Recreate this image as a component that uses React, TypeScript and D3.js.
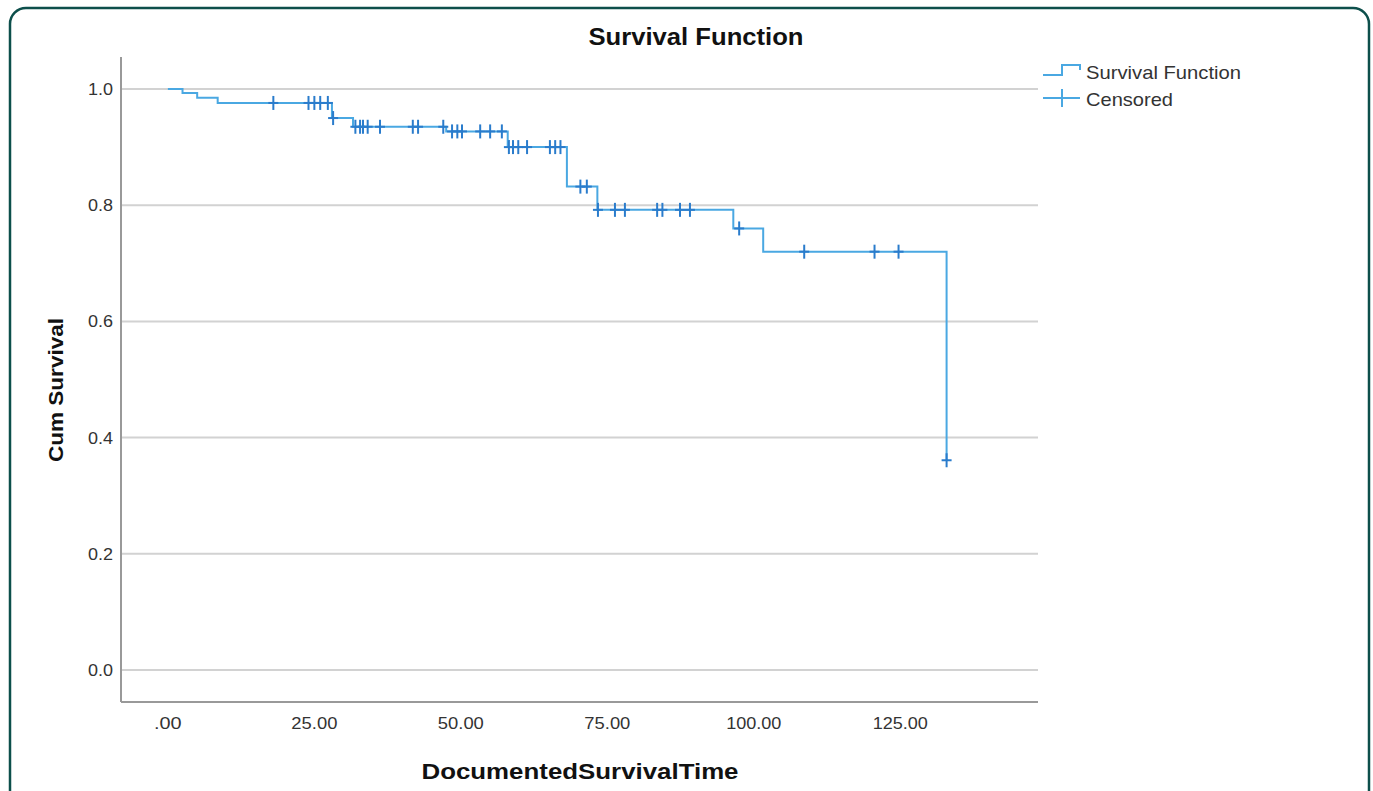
import React from 'react';
import * as d3 from 'd3';

// Kaplan-Meier steps
const stepTimes = [0, 2.5, 5, 8.5, 28, 31.6, 47.5, 58, 68.1, 73.3, 96.5, 101.6, 132.9];
const stepSurvival = [1.0, 0.993, 0.985, 0.976, 0.95, 0.935, 0.927, 0.9, 0.832, 0.792, 0.76, 0.72, 0.361];
const censorTimes = [
  18, 24, 25, 26, 27.3, 28.2, 32, 32.8, 33.3, 34.1, 36.2, 41.8, 42.7, 47, 48.5, 49.4, 50.2,
  53.3, 55, 57, 58.2, 58.9, 59.8, 61.3, 65.2, 66.1, 67, 70.4, 71.5, 73.4, 76.3, 78, 83.5,
  84.4, 87.4, 89.1, 97.5, 108.6, 120.6, 124.7, 132.9,
];
const xTicks = [0, 25, 50, 75, 100, 125];
const yTicks = [0, 0.2, 0.4, 0.6, 0.8, 1.0];

const W = 1373;
const H = 791;
const font = '"Liberation Sans", Arial, sans-serif';
const lineColor = '#4aa8e2';
const censorColor = '#2a7ccc';

function survivalAt(t: number) {
  let s = stepSurvival[0];
  for (let i = 0; i < stepTimes.length; i++) {
    if (stepTimes[i] <= t) s = stepSurvival[i];
  }
  return s;
}

export default function App() {
  const x = d3.scaleLinear().domain([-8, 148.5]).range([121, 1038]);
  const y = d3.scaleLinear().domain([0, 1]).range([670, 89]);

  const pts: [number, number][] = stepTimes.map((t, i) => [t, stepSurvival[i]]);
  const line = d3
    .line<[number, number]>()
    .x(d => x(d[0]))
    .y(d => y(d[1]))
    .curve(d3.curveStepAfter);

  return (
    <svg width={W} height={H} style={{ position: 'absolute', left: 0, top: 0, background: '#fff' }}>
      <rect x={10} y={8} width={1359} height={800} rx={16} fill="#fff" stroke="#0d4f4b" strokeWidth={2.5} />

      <text x={696} y={45} textAnchor="middle" fontFamily={font} fontWeight="bold" fontSize={23} fill="#111"
        textLength={215} lengthAdjust="spacingAndGlyphs">
        Survival Function
      </text>

      {/* grid */}
      {yTicks.map(t => (
        <line key={t} x1={121} x2={1038} y1={y(t)} y2={y(t)} stroke="#d2d2d2" strokeWidth={2} />
      ))}
      {/* axes */}
      <line x1={121} x2={121} y1={57} y2={702} stroke="#999" strokeWidth={2} />
      <line x1={121} x2={1038} y1={702} y2={702} stroke="#999" strokeWidth={2} />

      {yTicks.map(t => (
        <text key={t} x={113} y={y(t) + 6} textAnchor="end" fontFamily={font} fontSize={16} fill="#333"
          textLength={25} lengthAdjust="spacingAndGlyphs">
          {d3.format('.1f')(t)}
        </text>
      ))}
      {xTicks.map(t => {
        const label = t === 0 ? '.00' : d3.format('.2f')(t);
        return (
          <text key={t} x={x(t)} y={729} textAnchor="middle" fontFamily={font} fontSize={16} fill="#333"
            textLength={label.length * 9.2} lengthAdjust="spacingAndGlyphs">
            {label}
          </text>
        );
      })}

      <text
        transform={`translate(63,390) rotate(-90)`}
        textAnchor="middle"
        fontFamily={font}
        fontWeight="bold"
        fontSize={21}
        fill="#111"
        textLength={144}
        lengthAdjust="spacingAndGlyphs"
      >
        Cum Survival
      </text>
      <text x={580} y={779} textAnchor="middle" fontFamily={font} fontWeight="bold" fontSize={22} fill="#111"
        textLength={317} lengthAdjust="spacingAndGlyphs">
        DocumentedSurvivalTime
      </text>

      {/* curve */}
      <path d={line(pts) || ''} fill="none" stroke={lineColor} strokeWidth={2} />
      {censorTimes.map((t, i) => {
        const cx = x(t);
        const cy = y(survivalAt(t));
        return (
          <g key={i} stroke={censorColor} strokeWidth={2}>
            <line x1={cx} x2={cx} y1={cy - 7} y2={cy + 7} />
            <line x1={cx - 5} x2={cx + 5} y1={cy} y2={cy} />
          </g>
        );
      })}

      {/* legend */}
      <path d="M1043,75 H1062 V65 H1080 V70" fill="none" stroke={lineColor} strokeWidth={2} />
      <text x={1086} y={79} fontFamily={font} fontSize={19} fill="#333"
        textLength={155} lengthAdjust="spacingAndGlyphs">Survival Function</text>
      <line x1={1043} x2={1080} y1={98} y2={98} stroke={lineColor} strokeWidth={2} />
      <line x1={1062} x2={1062} y1={89} y2={107} stroke={lineColor} strokeWidth={2} />
      <text x={1086} y={106} fontFamily={font} fontSize={19} fill="#333"
        textLength={87} lengthAdjust="spacingAndGlyphs">Censored</text>
    </svg>
  );
}
